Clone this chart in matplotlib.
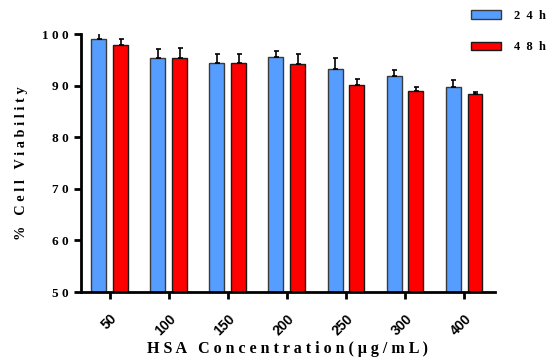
import matplotlib
matplotlib.use("Agg")
import matplotlib.pyplot as plt
import numpy as np

categories = ["50", "100", "150", "200", "250", "300", "400"]
v24 = [99.1, 95.3, 94.3, 95.5, 93.2, 91.9, 89.7]
e24 = [1.0, 1.7, 1.9, 1.3, 2.2, 1.1, 1.4]
v48 = [97.8, 95.3, 94.3, 94.1, 90.1, 88.9, 88.4]
e48 = [1.3, 1.9, 1.9, 2.0, 1.2, 0.9, 0.3]
series_labels = ["24h", "48h"]
yticks = [50, 60, 70, 80, 90, 100]

def spaced(s, sep=" "):
    return sep.join(list(s))

plt.rcParams['font.family'] = ['Liberation Serif', 'DejaVu Serif']
plt.rcParams['font.weight'] = 'bold'

fig = plt.figure(figsize=(5.57, 3.61), dpi=100)
ax = fig.add_axes([0.1454, 0.1911, 0.8887 - 0.1454, 0.9058 - 0.1911])

x = np.arange(len(categories))
w = 0.254
off = 0.186
blue = "#559DFF"
red = "#FF0000"
ax.bar(x - off, v24, w, color=blue, edgecolor="#3a3a3a", linewidth=1.0,
       yerr=[np.zeros(len(e24)), e24], capsize=1.8,
       error_kw=dict(elinewidth=1.2, capthick=1.2, ecolor="black"),
       label=spaced(series_labels[0], "  "), zorder=2)
ax.bar(x + off, v48, w, color=red, edgecolor="#1a1a1a", linewidth=1.0,
       yerr=[np.zeros(len(e48)), e48], capsize=1.8,
       error_kw=dict(elinewidth=1.2, capthick=1.2, ecolor="black"),
       label=spaced(series_labels[1], "  "), zorder=2)

ax.set_xlim(-0.49, 6.525)
ax.set_ylim(50, 100)
ax.set_yticks(yticks)
ax.set_yticklabels([spaced(str(t)) for t in yticks], fontsize=9.5, fontweight='bold')
ax.set_xticks(x)
ax.set_xticklabels(categories, rotation=45, ha='right', va='top', rotation_mode='anchor',
                   fontsize=10, fontweight='bold', family=['Liberation Sans', 'DejaVu Sans'])
for s in ['top', 'right']:
    ax.spines[s].set_visible(False)
for s in ['left', 'bottom']:
    ax.spines[s].set_linewidth(2)
ax.tick_params(axis='both', width=2, length=5, direction='out')
ax.tick_params(axis='x', pad=9)
ax.tick_params(axis='y', pad=4)

ax.set_ylabel(spaced("% Cell Viability"), fontsize=10.3, fontweight='bold', labelpad=10)
ax.set_xlabel(spaced("HSA Concentration(μg/mL)"), fontsize=11.5, fontweight='bold', labelpad=2)

leg = fig.legend(loc='upper left', bbox_to_anchor=(471 / 557, 1 - 10 / 361), frameon=False,
                 borderpad=0, borderaxespad=0,
                 handlelength=2.4, handleheight=0.72, labelspacing=1.55, handletextpad=1.0,
                 prop=dict(weight='bold', size=9))

fig.savefig("out.png", dpi=100)
